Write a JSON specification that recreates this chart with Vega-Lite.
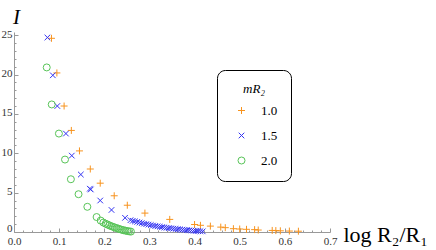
{
  "$schema": "https://vega.github.io/schema/vega-lite/v6.json",
  "width": 316,
  "height": 200,
  "autosize": {"type": "none"},
  "padding": {"left": 14, "top": 32, "right": 106, "bottom": 18},
  "background": "white",
  "config": {"view": {"stroke": null}, "font": "'Liberation Serif', 'DejaVu Serif', serif"},
  "data": {"values": [
    {"m": "1.0", "x": 0.083, "I": 24.6}, {"m": "1.0", "x": 0.095, "I": 20.2}, {"m": "1.0", "x": 0.111, "I": 16.0},
    {"m": "1.0", "x": 0.127, "I": 12.9}, {"m": "1.0", "x": 0.145, "I": 10.3}, {"m": "1.0", "x": 0.169, "I": 8.0},
    {"m": "1.0", "x": 0.191, "I": 6.2}, {"m": "1.0", "x": 0.222, "I": 4.6}, {"m": "1.0", "x": 0.251, "I": 3.4},
    {"m": "1.0", "x": 0.29, "I": 2.4}, {"m": "1.0", "x": 0.345, "I": 1.6}, {"m": "1.0", "x": 0.4, "I": 0.95},
    {"m": "1.0", "x": 0.413, "I": 0.85}, {"m": "1.0", "x": 0.435, "I": 0.75}, {"m": "1.0", "x": 0.458, "I": 0.62},
    {"m": "1.0", "x": 0.468, "I": 0.55}, {"m": "1.0", "x": 0.486, "I": 0.42}, {"m": "1.0", "x": 0.5, "I": 0.38},
    {"m": "1.0", "x": 0.515, "I": 0.34}, {"m": "1.0", "x": 0.533, "I": 0.3}, {"m": "1.0", "x": 0.541, "I": 0.25},
    {"m": "1.0", "x": 0.572, "I": 0.2}, {"m": "1.0", "x": 0.58, "I": 0.18}, {"m": "1.0", "x": 0.59, "I": 0.15},
    {"m": "1.0", "x": 0.61, "I": 0.12}, {"m": "1.0", "x": 0.63, "I": 0.1},
    {"m": "1.5", "x": 0.074, "I": 24.7}, {"m": "1.5", "x": 0.086, "I": 19.9}, {"m": "1.5", "x": 0.096, "I": 16.0},
    {"m": "1.5", "x": 0.115, "I": 12.5}, {"m": "1.5", "x": 0.128, "I": 9.7}, {"m": "1.5", "x": 0.148, "I": 7.3},
    {"m": "1.5", "x": 0.168, "I": 5.5}, {"m": "1.5", "x": 0.17, "I": 5.4}, {"m": "1.5", "x": 0.191, "I": 4.0},
    {"m": "1.5", "x": 0.216, "I": 2.8}, {"m": "1.5", "x": 0.246, "I": 1.8}, {"m": "1.5", "x": 0.258, "I": 1.5},
    {"m": "1.5", "x": 0.263, "I": 1.42}, {"m": "1.5", "x": 0.268, "I": 1.35}, {"m": "1.5", "x": 0.273, "I": 1.28},
    {"m": "1.5", "x": 0.278, "I": 1.2}, {"m": "1.5", "x": 0.283, "I": 1.13}, {"m": "1.5", "x": 0.288, "I": 1.06},
    {"m": "1.5", "x": 0.293, "I": 1.0}, {"m": "1.5", "x": 0.298, "I": 0.94}, {"m": "1.5", "x": 0.303, "I": 0.88},
    {"m": "1.5", "x": 0.308, "I": 0.82}, {"m": "1.5", "x": 0.313, "I": 0.77}, {"m": "1.5", "x": 0.318, "I": 0.72},
    {"m": "1.5", "x": 0.323, "I": 0.67}, {"m": "1.5", "x": 0.328, "I": 0.62}, {"m": "1.5", "x": 0.333, "I": 0.58},
    {"m": "1.5", "x": 0.338, "I": 0.54}, {"m": "1.5", "x": 0.343, "I": 0.5}, {"m": "1.5", "x": 0.348, "I": 0.46},
    {"m": "1.5", "x": 0.353, "I": 0.42}, {"m": "1.5", "x": 0.358, "I": 0.39}, {"m": "1.5", "x": 0.363, "I": 0.36},
    {"m": "1.5", "x": 0.368, "I": 0.33}, {"m": "1.5", "x": 0.373, "I": 0.3}, {"m": "1.5", "x": 0.378, "I": 0.27},
    {"m": "1.5", "x": 0.383, "I": 0.24}, {"m": "1.5", "x": 0.388, "I": 0.21}, {"m": "1.5", "x": 0.393, "I": 0.19},
    {"m": "1.5", "x": 0.398, "I": 0.16}, {"m": "1.5", "x": 0.403, "I": 0.14}, {"m": "1.5", "x": 0.408, "I": 0.12},
    {"m": "1.5", "x": 0.413, "I": 0.1}, {"m": "1.5", "x": 0.418, "I": 0.08},
    {"m": "2.0", "x": 0.0725, "I": 20.9}, {"m": "2.0", "x": 0.0836, "I": 16.2}, {"m": "2.0", "x": 0.0995, "I": 12.5},
    {"m": "2.0", "x": 0.113, "I": 9.2}, {"m": "2.0", "x": 0.126, "I": 6.7}, {"m": "2.0", "x": 0.143, "I": 4.8},
    {"m": "2.0", "x": 0.1625, "I": 3.2}, {"m": "2.0", "x": 0.183, "I": 1.9}, {"m": "2.0", "x": 0.192, "I": 1.45},
    {"m": "2.0", "x": 0.198, "I": 1.2}, {"m": "2.0", "x": 0.203, "I": 1.05}, {"m": "2.0", "x": 0.207, "I": 0.95},
    {"m": "2.0", "x": 0.211, "I": 0.85}, {"m": "2.0", "x": 0.215, "I": 0.75}, {"m": "2.0", "x": 0.219, "I": 0.66},
    {"m": "2.0", "x": 0.223, "I": 0.58}, {"m": "2.0", "x": 0.227, "I": 0.5}, {"m": "2.0", "x": 0.231, "I": 0.42},
    {"m": "2.0", "x": 0.235, "I": 0.35}, {"m": "2.0", "x": 0.239, "I": 0.28}, {"m": "2.0", "x": 0.243, "I": 0.22},
    {"m": "2.0", "x": 0.247, "I": 0.17}, {"m": "2.0", "x": 0.251, "I": 0.12}, {"m": "2.0", "x": 0.255, "I": 0.08},
    {"m": "2.0", "x": 0.259, "I": 0.05}
  ]},
  "mark": {"type": "point", "filled": false, "strokeWidth": 1, "size": 49, "opacity": 1},
  "encoding": {
    "x": {
      "field": "x", "type": "quantitative",
      "scale": {"domain": [0, 0.7], "nice": false, "zero": false},
      "axis": {
        "title": "log R₂/R₁",
        "titleFont": "'Liberation Serif', 'DejaVu Serif', serif", "titleFontSize": 22, "titleFontWeight": "normal", "titleColor": "black",
        "titleAlign": "left", "titleBaseline": "alphabetic", "titleX": 329, "titleY": 9, "titleAnchor": "start",
        "values": [0, 0.02, 0.04, 0.06, 0.08, 0.1, 0.12, 0.14, 0.16, 0.18, 0.2, 0.22, 0.24, 0.26, 0.28, 0.3, 0.32, 0.34, 0.36, 0.38, 0.4, 0.42, 0.44, 0.46, 0.48, 0.5, 0.52, 0.54, 0.56, 0.58, 0.6, 0.62, 0.64, 0.66, 0.68, 0.7],
        "labelExpr": "abs(datum.value * 10 - round(datum.value * 10)) < 0.001 ? format(datum.value, '.1f') : ''",
        "tickSize": {"condition": {"test": "abs(datum.value * 10 - round(datum.value * 10)) < 0.001", "value": -4}, "value": -2},
        "domainColor": "#999999", "tickColor": "#999999", "grid": false,
        "labelFont": "'Liberation Serif', 'DejaVu Serif', serif", "labelFontSize": 11, "labelColor": "#333333",
        "labelPadding": 7, "labelFlush": false, "labelOverlap": false
      }
    },
    "y": {
      "field": "I", "type": "quantitative",
      "scale": {"domain": [0, 25.4], "nice": false, "zero": false},
      "axis": {
        "title": "I",
        "titleFont": "'Liberation Serif', 'DejaVu Serif', serif", "titleFontSize": 21, "titleFontStyle": "italic", "titleFontWeight": "normal", "titleColor": "black",
        "titleAngle": 0, "titleAlign": "center", "titleBaseline": "alphabetic", "titleX": 2, "titleY": -9,
        "values": [0, 1, 2, 3, 4, 5, 6, 7, 8, 9, 10, 11, 12, 13, 14, 15, 16, 17, 18, 19, 20, 21, 22, 23, 24, 25],
        "labelExpr": "datum.value % 5 == 0 ? format(datum.value, 'd') : ''",
        "tickSize": {"condition": {"test": "datum.value % 5 == 0", "value": -4}, "value": -2},
        "domainColor": "#999999", "tickColor": "#999999", "grid": false,
        "labelFont": "'Liberation Serif', 'DejaVu Serif', serif", "labelFontSize": 11, "labelColor": "#333333",
        "labelPadding": 6,
        "labelOffset": {"condition": {"test": "datum.value == 0", "value": -4}, "value": -1},
        "labelFlush": false, "labelOverlap": false
      }
    },
    "color": {
      "field": "m", "type": "nominal",
      "scale": {"domain": ["1.0", "1.5", "2.0"], "range": ["#F7931E", "#3333F2", "#58C458"]},
      "legend": {
        "orient": "none", "legendX": 203, "legendY": 38,
        "title": "mR₂", "titleFont": "'Liberation Serif', 'DejaVu Serif', serif", "titleFontSize": 13, "titleFontStyle": "italic", "titleFontWeight": "normal", "titleColor": "black",
        "titleAnchor": "middle", "titlePadding": 8,
        "labelFont": "'Liberation Serif', 'DejaVu Serif', serif", "labelFontSize": 13, "labelColor": "black", "labelOffset": 13,
        "symbolSize": 49, "symbolStrokeWidth": 1, "symbolOffset": 5,
        "rowPadding": 11, "padding": 13,
        "strokeColor": "black", "cornerRadius": 8, "fillColor": "white",
        "encoding": {"legend": {"update": {"strokeWidth": {"value": 1.5}}}}
      }
    },
    "shape": {
      "field": "m", "type": "nominal",
      "scale": {"domain": ["1.0", "1.5", "2.0"], "range": ["M-1,0L1,0M0,-1L0,1", "M-0.8,-0.8L0.8,0.8M-0.8,0.8L0.8,-0.8", "circle"]}
    }
  }
}
